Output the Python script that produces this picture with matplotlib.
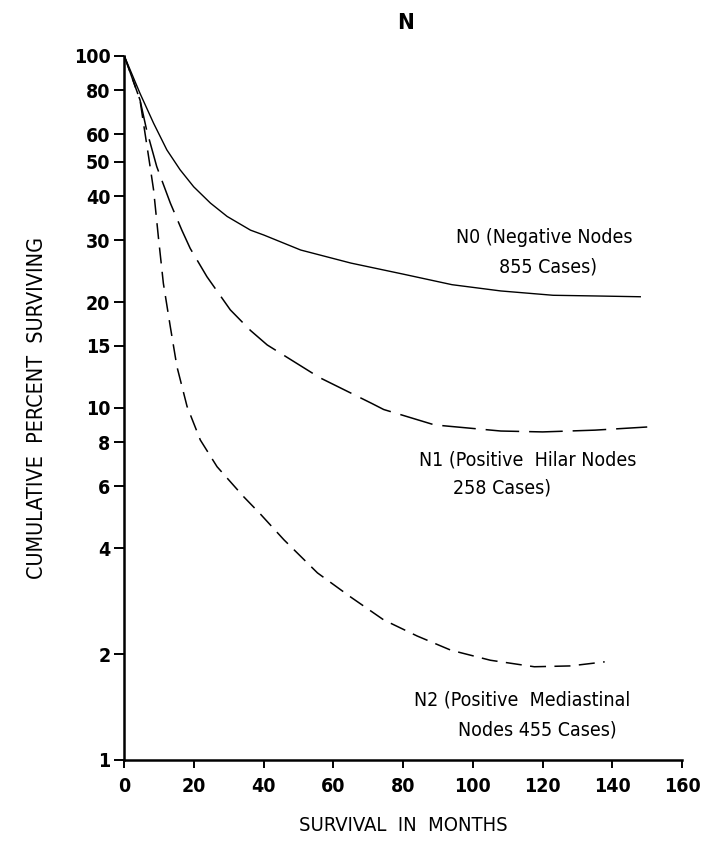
import numpy as np
import matplotlib.pyplot as plt

# survival curves by nodal status (months, cumulative percent surviving)
months_n0 = [0, 4.5, 8.4, 12.2, 16, 19.9, 24.7, 29.5, 36.2, 40, 50.6, 65, 80, 94, 108, 123, 136, 148]
surv_n0 = [100, 78.3, 64.4, 54.1, 47.5, 42.5, 38.2, 35.0, 32.0, 31, 28.1, 25.8, 24.0, 22.4, 21.5,
           20.9, 20.8, 20.7]

months_n1 = [0, 4.5, 6.4, 9.3, 13.2, 16.5, 18.9, 23.7, 30.4, 36.2, 41, 56, 71, 74.4, 89, 108,
             120, 135, 150]
surv_n1 = [100, 75, 61.6, 48.5, 38.2, 32.0, 28.4, 23.6, 19.0, 16.6, 15.1, 12.2, 10.3, 9.9, 8.95,
           8.6, 8.55, 8.65, 8.83]

months_n2 = [0, 4.5, 5.5, 7.4, 8.4, 9.8, 11.2, 13.2, 15.1, 18.0, 21.8, 26.6, 34.2, 39, 45.8,
             55.4, 65, 74.4, 84, 93.7, 105, 117.6, 128, 137.8]
surv_n2 = [100, 75, 64.4, 48.5, 41.6, 30.4, 22.6, 17.0, 13.1, 10.1, 8.11, 6.81, 5.6, 5.0, 4.22,
           3.4, 2.9, 2.5, 2.25, 2.05, 1.92, 1.84, 1.85, 1.9]

y_ticks = [1, 2, 4, 6, 8, 10, 15, 20, 30, 40, 50, 60, 80, 100]
x_ticks = [0, 20, 40, 60, 80, 100, 120, 140, 160]

plt.rcParams['font.family'] = ['DejaVu Sans']
plt.rcParams['font.stretch'] = 'condensed'

fig = plt.figure(figsize=(7.12, 8.43), dpi=100)
ax = fig.add_axes([0.1746, 0.0985, 0.7834, 0.8351])

ax.plot(months_n0, surv_n0, color='black', lw=1.0)
l1, = ax.plot(months_n1, surv_n1, color='black', lw=1.1)
l1.set_dashes((22, 6.5))
l2, = ax.plot(months_n2, surv_n2, color='black', lw=1.1)
l2.set_dashes((10.5, 5.5))

ax.set_yscale('log')
ax.set_ylim(1, 100)
ax.set_xlim(0, 160)
ax.set_yticks(y_ticks)
ax.set_yticklabels([str(t) for t in y_ticks], fontweight='bold')
ax.yaxis.set_minor_locator(plt.NullLocator())
ax.set_xticks(x_ticks)
ax.set_xticklabels([str(t) for t in x_ticks], fontweight='bold')

for side in ['top', 'right']:
    ax.spines[side].set_visible(False)
for side in ['left', 'bottom']:
    ax.spines[side].set_linewidth(1.8)

ax.tick_params(axis='y', length=7, width=1.4, pad=3, labelsize=14)
ax.tick_params(axis='x', length=6, width=1.4, pad=6, labelsize=14)

ax.set_ylabel('CUMULATIVE  PERCENT  SURVIVING', fontsize=15.5, labelpad=19)
ax.set_xlabel('SURVIVAL  IN  MONTHS', fontsize=14.5, labelpad=15)
fig.text(0.569, 0.973, 'N', fontsize=16, fontweight='bold', ha='center', va='center')

kw = dict(fontsize=14, ha='left', va='center')
ax.text(95.2, 30.5, 'N0 (Negative Nodes', **kw)
ax.text(107.5, 25.1, '855 Cases)', **kw)
ax.text(84.5, 7.12, 'N1 (Positive  Hilar Nodes', **kw)
ax.text(94.3, 5.91, '258 Cases)', **kw)
ax.text(83.1, 1.48, 'N2 (Positive  Mediastinal', **kw)
ax.text(95.7, 1.217, 'Nodes 455 Cases)', **kw)

fig.savefig('out.png', dpi=100)
